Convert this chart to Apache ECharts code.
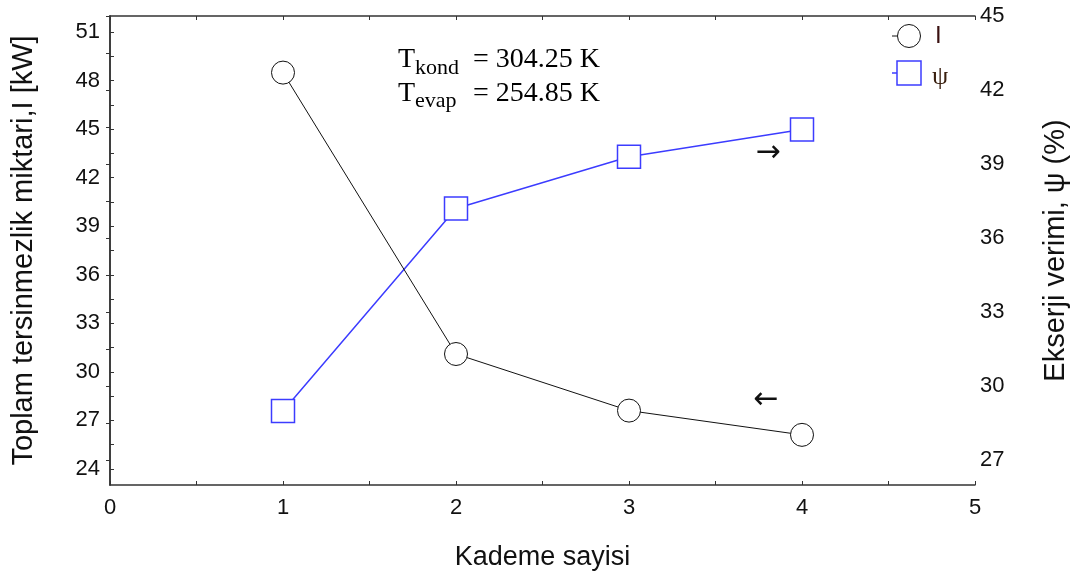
<!DOCTYPE html>
<html>
<head>
<meta charset="utf-8">
<script src="https://cdn.jsdelivr.net/npm/echarts@6/dist/echarts.min.js"></script>
<style>html,body{margin:0;padding:0;background:#fff;}#c{width:1078px;height:577px;}</style>
</head>
<body>
<div id="c"></div>
<script>
// ---- data ----
const stages = [1, 2, 3, 4];
const irreversibility = [48.5, 31.1, 27.6, 26.1];   // I [kW], left axis
const exergyEff = [29.0, 37.2, 39.3, 40.4];         // psi (%), right axis
const leftLabels = [24, 27, 30, 33, 36, 39, 42, 45, 48, 51];
const leftTicks = [24, 25.5, 27, 28.5, 30, 31.5, 33, 34.5, 36, 37.5, 39, 40.5, 42, 43.5, 45, 46.5, 48, 49.5, 51];
const rightLabels = [27, 30, 33, 36, 39, 42, 45];
const rightTicks = [27, 28.5, 30, 31.5, 33, 34.5, 36, 37.5, 39, 40.5, 42, 43.5, 45];
const xLabels = [0, 1, 2, 3, 4, 5];
const xTicks = [0, 0.5, 1, 1.5, 2, 2.5, 3, 3.5, 4, 4.5, 5];

const chart = echarts.init(document.getElementById('c'));
const sans = 'Liberation Sans, Arial, sans-serif';
const serif = 'Liberation Serif, Times New Roman, serif';
const axisLine = { show: true, lineStyle: { color: '#333', width: 1.5 } };

chart.setOption({
  animation: false,
  backgroundColor: '#fff',
  grid: { left: 110, right: 100, top: 16, bottom: 92 },
  xAxis: [{
    type: 'value', min: 0, max: 5, position: 'bottom',
    name: 'Kademe sayisi', nameLocation: 'middle', nameGap: 59,
    nameTextStyle: { fontFamily: sans, fontSize: 27, color: '#111' },
    axisLine: axisLine,
    axisTick: { show: true, inside: true, length: 4, customValues: xTicks, lineStyle: { color: '#333' } },
    axisLabel: { customValues: xLabels, fontFamily: sans, fontSize: 22, color: '#111', margin: 12 },
    splitLine: { show: false }
  }, {
    type: 'value', min: 0, max: 5, position: 'top',
    axisLine: axisLine,
    axisTick: { show: true, inside: true, length: 4, customValues: xTicks, lineStyle: { color: '#333' } },
    axisLabel: { show: false },
    splitLine: { show: false }
  }],
  yAxis: [{
    type: 'value', min: 23, max: 52, position: 'left',
    name: 'Toplam tersinmezlik miktari,I [kW]', nameLocation: 'middle', nameGap: 72,
    nameTextStyle: { fontFamily: sans, fontSize: 29, color: '#111' },
    axisLine: axisLine,
    axisTick: { show: true, inside: true, length: 4, customValues: leftTicks, lineStyle: { color: '#333' } },
    axisLabel: { customValues: leftLabels, fontFamily: sans, fontSize: 22, color: '#111', margin: 10 },
    splitLine: { show: false }
  }, {
    type: 'value', min: 26, max: 45, position: 'right',
    name: 'Ekserji verimi, \u03c8 (%)', nameLocation: 'middle', nameGap: 66,
    nameTextStyle: { fontFamily: sans, fontSize: 29, color: '#111' },
    axisLine: axisLine,
    axisTick: { show: true, inside: true, length: 4, customValues: rightTicks, lineStyle: { color: '#333' } },
    axisLabel: { customValues: rightLabels, fontFamily: sans, fontSize: 22, color: '#111', margin: 5 },
    splitLine: { show: false }
  }],
  series: [{
    name: 'I', type: 'line', xAxisIndex: 0, yAxisIndex: 0,
    data: stages.map((s, i) => [s, irreversibility[i]]),
    symbol: 'circle', symbolSize: 23,
    lineStyle: { color: '#111', width: 1 },
    itemStyle: { color: '#fff', borderColor: '#111', borderWidth: 1 },
    z: 3
  }, {
    name: '\u03c8', type: 'line', xAxisIndex: 0, yAxisIndex: 1,
    data: stages.map((s, i) => [s, exergyEff[i]]),
    symbol: 'rect', symbolSize: 23,
    lineStyle: { color: '#3c3cff', width: 1.5 },
    itemStyle: { color: '#fff', borderColor: '#3c3cff', borderWidth: 1.5 },
    z: 2
  }],
  graphic: [
    // legend
    { type: 'line', shape: { x1: 892, y1: 36, x2: 897, y2: 36 }, style: { stroke: '#111', lineWidth: 1 } },
    { type: 'circle', shape: { cx: 909, cy: 36, r: 11.5 }, style: { fill: '#fff', stroke: '#111', lineWidth: 1 } },
    { type: 'text', style: { text: 'I', x: 935, y: 36, font: '24px ' + sans, fill: '#3a1010', verticalAlign: 'middle' } },
    { type: 'line', shape: { x1: 892, y1: 73, x2: 897, y2: 73 }, style: { stroke: '#3c3cff', lineWidth: 1.5 } },
    { type: 'rect', shape: { x: 897, y: 61, width: 24, height: 24 }, style: { fill: '#fff', stroke: '#3c3cff', lineWidth: 1.5 } },
    { type: 'text', style: { text: '\u03c8', x: 932, y: 77, font: '26px ' + serif, fill: '#3a2010', verticalAlign: 'middle' } },
    // annotation
    { type: 'text', style: { text: 'T', x: 398, y: 60, font: '28px ' + serif, fill: '#000', verticalAlign: 'middle' } },
    { type: 'text', style: { text: 'kond', x: 415, y: 68, font: '22px ' + serif, fill: '#000', verticalAlign: 'middle' } },
    { type: 'text', style: { text: '= 304.25 K', x: 473, y: 60, font: '28px ' + serif, fill: '#000', verticalAlign: 'middle' } },
    { type: 'text', style: { text: 'T', x: 398, y: 94, font: '28px ' + serif, fill: '#000', verticalAlign: 'middle' } },
    { type: 'text', style: { text: 'evap', x: 415, y: 101, font: '22px ' + serif, fill: '#000', verticalAlign: 'middle' } },
    { type: 'text', style: { text: '= 254.85 K', x: 473, y: 94, font: '28px ' + serif, fill: '#000', verticalAlign: 'middle' } },
    // arrows
    { type: 'text', style: { text: '\u2192', x: 768, y: 153, font: '30px DejaVu Sans', fill: '#111', align: 'center', verticalAlign: 'middle' } },
    { type: 'text', style: { text: '\u2190', x: 766, y: 400, font: '30px DejaVu Sans', fill: '#111', align: 'center', verticalAlign: 'middle' } }
  ]
});
</script>
</body>
</html>
